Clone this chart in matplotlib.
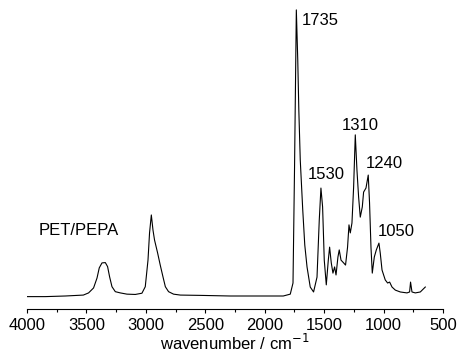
import numpy as np
import matplotlib
matplotlib.use('Agg')
import matplotlib.pyplot as plt
from matplotlib.ticker import MultipleLocator

plt.rcParams['font.family'] = ['Liberation Sans', 'DejaVu Sans']

# spectrum (wavenumber / cm-1, absorbance a.u.)
wavenumber = [4000, 3846, 3678, 3526, 3482, 3440, 3411, 3392, 3369, 3341,
              3322, 3305, 3285, 3257, 3215, 3159, 3089, 3033, 3005, 2982,
              2969, 2954, 2940, 2927, 2901, 2879, 2856, 2836, 2809, 2767,
              2710, 2542, 2290, 2037, 1844, 1785, 1762, 1749, 1734, 1722,
              1713, 1701, 1680, 1663, 1644, 1617, 1589, 1560, 1541, 1527,
              1513, 1499, 1482, 1465, 1454, 1440, 1426, 1412, 1400, 1384,
              1373, 1358, 1336, 1320, 1303, 1291, 1280, 1266, 1252, 1238,
              1224, 1210, 1196, 1179, 1168, 1148, 1129, 1118, 1106, 1095,
              1078, 1061, 1039, 1028, 1013, 986, 966, 949, 929, 901,
              859, 803, 781, 773, 761, 733, 691, 649]
absorbance = [0.041, 0.041, 0.043, 0.046, 0.053, 0.069, 0.101, 0.134, 0.150, 0.151,
              0.138, 0.105, 0.073, 0.057, 0.053, 0.049, 0.048, 0.052, 0.073, 0.159,
              0.247, 0.305, 0.256, 0.224, 0.182, 0.143, 0.105, 0.073, 0.057, 0.049,
              0.046, 0.045, 0.043, 0.043, 0.043, 0.049, 0.085, 0.460, 0.968, 0.806,
              0.644, 0.483, 0.321, 0.208, 0.137, 0.072, 0.056, 0.104, 0.289, 0.392,
              0.331, 0.159, 0.079, 0.159, 0.201, 0.150, 0.117, 0.137, 0.111, 0.169,
              0.192, 0.159, 0.150, 0.143, 0.201, 0.273, 0.247, 0.279, 0.395, 0.564,
              0.450, 0.363, 0.298, 0.331, 0.379, 0.392, 0.434, 0.344, 0.201, 0.117,
              0.169, 0.192, 0.214, 0.182, 0.127, 0.095, 0.085, 0.088, 0.072, 0.062,
              0.056, 0.053, 0.056, 0.088, 0.056, 0.053, 0.056, 0.072]

# peak labels
peak_labels = ['1735', '1530', '1310', '1240', '1050']
peak_x = [1686, 1642, 1350, 1154, 1053]
peak_y = [0.935, 0.437, 0.593, 0.471, 0.25]

fig = plt.figure(figsize=(4.58, 3.58), dpi=100)
ax = fig.add_axes([27 / 458, 48.7 / 358, 416 / 458, 309.3 / 358])

ax.plot(wavenumber, absorbance, color='black', lw=0.8)

for lab, x, y in zip(peak_labels, peak_x, peak_y):
    ax.text(x, y, lab, fontsize=12, ha='left', va='center')
ax.text(3902, 0.256, 'PET/PEPA', fontsize=12, ha='left', va='center')

ax.set_xlim(4000, 500)
ax.set_ylim(0, 1)
ax.xaxis.set_major_locator(MultipleLocator(500))
ax.xaxis.set_minor_locator(MultipleLocator(250))
ax.tick_params(axis='x', which='major', direction='out', length=3, width=0.8,
               labelsize=12, pad=3)
ax.tick_params(axis='x', which='minor', direction='out', length=2, width=0.8)
ax.set_yticks([])
for s in ['left', 'right', 'top']:
    ax.spines[s].set_visible(False)
ax.spines['bottom'].set_linewidth(0.8)
ax.set_xlabel('wavenumber / cm$^{-1}$', fontsize=12, labelpad=0)

fig.savefig('out.png', dpi=100)
